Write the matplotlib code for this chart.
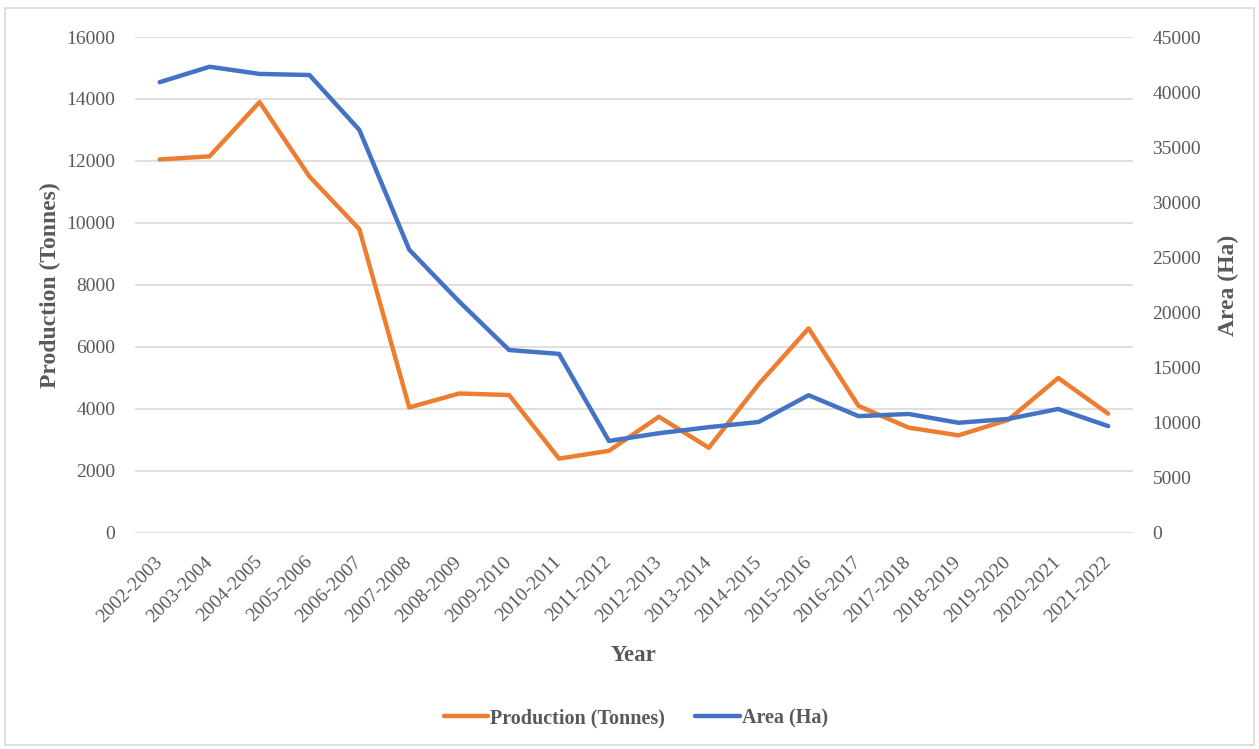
import matplotlib.pyplot as plt
from matplotlib.patches import Rectangle

years = ['2002-2003', '2003-2004', '2004-2005', '2005-2006', '2006-2007',
         '2007-2008', '2008-2009', '2009-2010', '2010-2011', '2011-2012',
         '2012-2013', '2013-2014', '2014-2015', '2015-2016', '2016-2017',
         '2017-2018', '2018-2019', '2019-2020', '2020-2021', '2021-2022']
production = [12050, 12150, 13900, 11500, 9800, 4050, 4500, 4450, 2400, 2650,
              3750, 2750, 4800, 6600, 4100, 3400, 3150, 3650, 5000, 3850]
area = [40900, 42300, 41650, 41550, 36570, 25700, 21000, 16600, 16250, 8350,
        9050, 9600, 10070, 12500, 10600, 10800, 10000, 10350, 11250, 9700]

orange = '#ED7D31'
blue = '#4472C4'
tick_color = '#595959'

plt.rcParams['font.family'] = ['Liberation Serif', 'DejaVu Serif']

fig = plt.figure(figsize=(12.59, 7.49), dpi=100)
ax = fig.add_axes([0.107, 0.2884, 0.793, 0.6622])
ax2 = ax.twinx()

x = list(range(len(years)))
l1, = ax.plot(x, production, color=orange, lw=3.2, label='Production (Tonnes)',
              solid_joinstyle='round', solid_capstyle='round')
l2, = ax2.plot(x, area, color=blue, lw=3.2, label='Area (Ha)',
               solid_joinstyle='round', solid_capstyle='round')

ax.set_xlim(-0.5, len(years) - 0.5)
ax.set_ylim(0, 16000)
ax2.set_ylim(0, 45000)
ax.set_yticks(range(0, 16001, 2000))
ax2.set_yticks(range(0, 45001, 5000))
ax.yaxis.grid(True, color='#d9d9d9', lw=1.2)
ax.set_axisbelow(True)

ax.set_xticks(x)
ax.set_xticklabels(years, rotation=45, ha='right', va='center',
                   rotation_mode='anchor')
for a in (ax, ax2):
    for s in a.spines.values():
        s.set_visible(False)
    a.tick_params(length=0, labelsize=14, labelcolor=tick_color)
ax.tick_params(axis='y', pad=14)
ax.tick_params(axis='x', pad=19)
ax2.tick_params(axis='y', pad=14)

ax.set_ylabel('Production (Tonnes)', fontsize=17, fontweight='bold',
              color=tick_color, labelpad=4)
ax2.set_ylabel('Area (Ha)', fontsize=17, fontweight='bold',
               color=tick_color, labelpad=12)
ax.set_xlabel('Year', fontsize=16.5, fontweight='bold', color=tick_color,
              labelpad=14)

leg = fig.legend(handles=[l1, l2], loc='center', bbox_to_anchor=(0.505, 0.041),
                 ncol=2, frameon=False, handlelength=2.2,
                 handletextpad=0.1, columnspacing=1.5,
                 prop={'weight': 'bold', 'size': 14.5})
for t in leg.get_texts():
    t.set_color(tick_color)

fig.patches.append(Rectangle((0.004, 0.006), 0.992, 0.983,
                             transform=fig.transFigure, fill=False,
                             edgecolor='#d9d9d9', lw=1.2))

fig.savefig('out.png', dpi=100)
